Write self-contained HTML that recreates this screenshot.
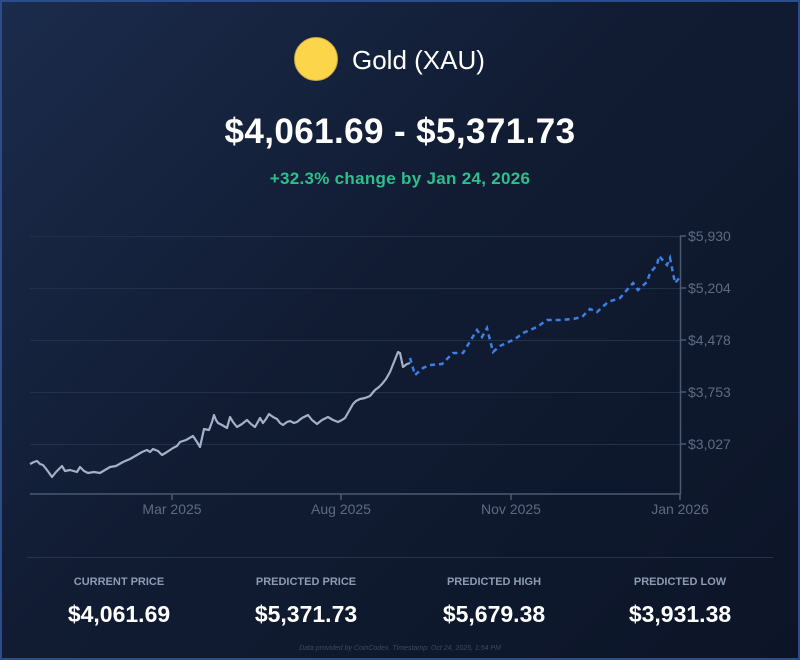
<!DOCTYPE html>
<html><head><meta charset="utf-8"><style>
html,body{margin:0;padding:0}
body{width:800px;height:660px;overflow:hidden;font-family:"Liberation Sans",sans-serif}
.card{position:absolute;left:0;top:0;width:796px;height:656px;border:2px solid #2b4d8c;background:linear-gradient(135deg,#1b2b4b 0%,#111c33 45%,#0c1527 100%);}
.t{position:absolute;left:0;width:800px;text-align:center;color:#fff}
.lbl{position:absolute;width:200px;text-align:center;color:#8d9bb3;font-size:11px;font-weight:bold;top:576px}
.val{position:absolute;width:200px;text-align:center;color:#fff;font-size:23px;font-weight:bold;top:601px}
</style></head><body>
<div class="card"></div>
<div style="position:absolute;left:294px;top:37px;width:44px;height:44px;border-radius:50%;background:#fdd54a;border:1px solid #c9a94a;box-sizing:border-box"></div>
<div style="position:absolute;left:352px;top:45px;color:#fff;font-size:26px">Gold (XAU)</div>
<div class="t" style="top:112px;font-size:35px;font-weight:bold;letter-spacing:0.4px">$4,061.69 - $5,371.73</div>
<div class="t" style="top:169px;font-size:17px;font-weight:bold;color:#2fbf8a;letter-spacing:0.3px">+32.3% change by Jan 24, 2026</div>
<svg style="position:absolute;left:0;top:0" width="800" height="660">
<g stroke="#22304a" stroke-width="1">
<line x1="30" y1="236.5" x2="680" y2="236.5"/><line x1="30" y1="288.5" x2="680" y2="288.5"/><line x1="30" y1="340.5" x2="680" y2="340.5"/><line x1="30" y1="392.5" x2="680" y2="392.5"/><line x1="30" y1="444.5" x2="680" y2="444.5"/>
</g>
<g stroke="#4b5a73" stroke-width="1.5">
<line x1="30" y1="494" x2="681" y2="494"/><line x1="680.5" y1="236" x2="680.5" y2="494"/>
<line x1="172" y1="494" x2="172" y2="500"/><line x1="341" y1="494" x2="341" y2="500"/><line x1="511" y1="494" x2="511" y2="500"/><line x1="680" y1="494" x2="680" y2="500"/>
<line x1="680" y1="236" x2="686" y2="236"/><line x1="680" y1="288" x2="686" y2="288"/><line x1="680" y1="340" x2="686" y2="340"/><line x1="680" y1="392" x2="686" y2="392"/><line x1="680" y1="444" x2="686" y2="444"/>
</g>
<g fill="#5d6b82" font-size="14" font-family="Liberation Sans,sans-serif">
<text x="688" y="241">$5,930</text><text x="688" y="293">$5,204</text><text x="688" y="345">$4,478</text><text x="688" y="397">$3,753</text><text x="688" y="449">$3,027</text>
<text x="172" y="514" text-anchor="middle">Mar 2025</text><text x="341" y="514" text-anchor="middle">Aug 2025</text><text x="511" y="514" text-anchor="middle">Nov 2025</text><text x="680" y="514" text-anchor="middle">Jan 2026</text>
</g>
<polyline fill="none" stroke="#a3b0c6" stroke-width="2.2" stroke-linejoin="round" points="30,464 34,462 37,461 40,464 43,465 47,470 52,477 56,472 62,466 65,471 70,470 77,472 80,467 84,471 88,473 94,472 100,473 105,470 110,467 116,466 123,462 130,459 137,455 142,452 147,450 150,452 153,449 158,451 162,455 167,452 173,448 177,446 180,442 186,440 193,436 197,442 200,447 202,438 204,429 209,430 212,422 214,415 216,420 218,423 222,425 227,428 230,417 233,422 237,427 242,424 247,420 251,424 255,427 260,418 263,423 266,419 269,414 273,417 277,419 280,423 283,425 287,422 290,421 294,423 297,422 302,418 308,415 312,420 317,424 322,420 328,417 333,420 338,422 342,420 345,418 349,411 353,404 356,401 360,399 365,398 370,396 375,390 379,387 382,384 386,379 390,372 394,362 398,352 400,353 403,367 407,364 410,363"/>
<polyline fill="none" stroke="#3d7fe6" stroke-width="2.5" stroke-dasharray="5,4" points="410,358 415,375 423,368 430,365 442,364 453,353 463,353 477,330 482,337 487,328 493,352 500,346 515,339 523,333 537,327 547,320 560,320 573,319 582,317 590,309 597,312 608,302 620,298 633,283 638,290 647,282 650,273 657,265 659,256 667,265 670,258 675,283 680,277"/>
<line x1="27" y1="557.5" x2="773" y2="557.5" stroke="#26334d" stroke-width="1"/>
<text x="400" y="650" text-anchor="middle" fill="#3c4960" font-size="7" font-style="italic" font-family="Liberation Sans,sans-serif">Data provided by CoinCodex. Timestamp: Oct 24, 2025, 1:54 PM</text>
</svg>
<div class="lbl" style="left:19px">CURRENT PRICE</div><div class="val" style="left:19px">$4,061.69</div>
<div class="lbl" style="left:206px">PREDICTED PRICE</div><div class="val" style="left:206px">$5,371.73</div>
<div class="lbl" style="left:394px">PREDICTED HIGH</div><div class="val" style="left:394px">$5,679.38</div>
<div class="lbl" style="left:580px">PREDICTED LOW</div><div class="val" style="left:580px">$3,931.38</div>
</body></html>
